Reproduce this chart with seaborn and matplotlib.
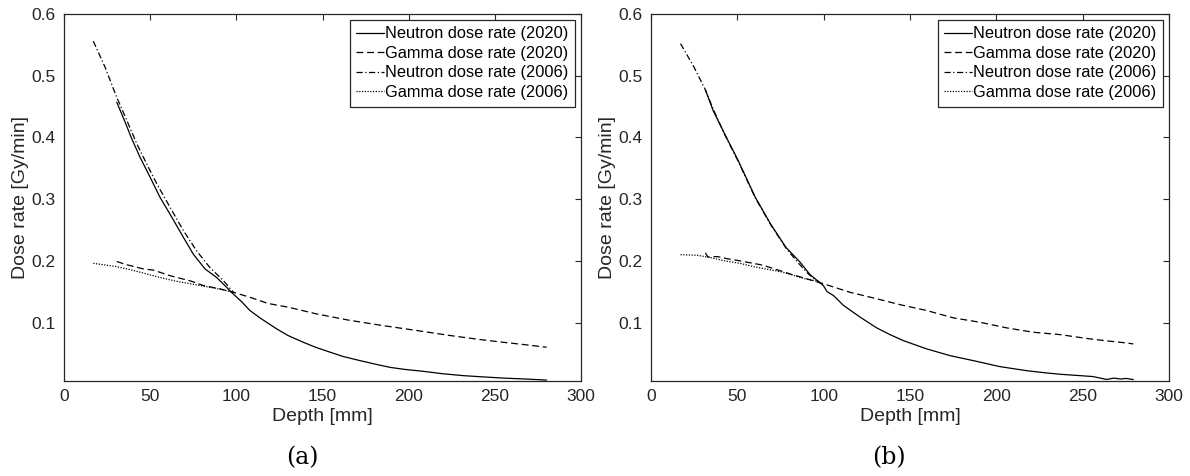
import matplotlib
matplotlib.use("Agg")
import matplotlib.pyplot as plt
import seaborn as sns
import pandas as pd

# ---------------- data ----------------
labels = ["Neutron dose rate (2020)", "Gamma dose rate (2020)",
          "Neutron dose rate (2006)", "Gamma dose rate (2006)"]
captions = ["(a)", "(b)"]
x_ticks = [0, 50, 100, 150, 200, 250, 300]
y_ticks = [0.1, 0.2, 0.3, 0.4, 0.5, 0.6]

# Panel (a)
a_n2020_x = [30.6, 35, 39.3, 44.1, 49, 55.7, 62.5, 69.3, 75, 81.8, 88.6, 94.4, 98.3, 103, 107.9,
             114, 123.4, 130, 138.9, 146, 154.4, 162, 171.8, 180, 189.2, 198, 208.5, 220, 231.7,
             243, 255, 268, 280]
a_n2020_y = [0.457, 0.428, 0.398, 0.368, 0.341, 0.303, 0.271, 0.238, 0.211, 0.187, 0.173, 0.157,
             0.146, 0.134, 0.1195, 0.107, 0.0898, 0.079, 0.068, 0.060, 0.052, 0.045, 0.0383, 0.033,
             0.0274, 0.024, 0.021, 0.017, 0.014, 0.012, 0.0100, 0.0085, 0.0068]
a_g2020_x = [30.6, 36, 46, 51.9, 61.5, 74, 80.8, 90, 98.3, 107.9, 118.3, 130, 146.6, 165, 185.3,
             205, 224, 240, 255, 268, 280]
a_g2020_y = [0.199, 0.194, 0.187, 0.185, 0.176, 0.167, 0.160, 0.155, 0.149, 0.141, 0.131, 0.125,
             0.114, 0.104, 0.095, 0.087, 0.079, 0.073, 0.068, 0.064, 0.060]
a_n2006_x = [17, 23.8, 30.6, 36.4, 42.2, 48, 53.8, 61.5, 69.3, 77, 84.7, 92.5, 98.3]
a_n2006_y = [0.556, 0.514, 0.465, 0.428, 0.390, 0.357, 0.325, 0.287, 0.249, 0.216, 0.189, 0.168,
             0.149]
a_g2006_x = [17, 29.7, 36.4, 45, 55.7, 65, 75, 83, 90.5, 98.3]
a_g2006_y = [0.196, 0.191, 0.187, 0.181, 0.173, 0.167, 0.162, 0.158, 0.154, 0.149]

# Panel (b)
b_n2020_x = [31.5, 33, 35.9, 42.6, 50.4, 60.4, 69.2, 78.1, 86.3, 92, 99.8, 102, 105.6, 111.4,
             121, 130.7, 138.4, 146.1, 159.7, 173.2, 186.7, 202.1, 217.6, 229.2, 238, 248.5, 256,
             263.9, 268, 272, 275, 279.3]
b_n2020_y = [0.477, 0.466, 0.444, 0.406, 0.363, 0.303, 0.260, 0.222, 0.198, 0.178, 0.160, 0.150,
             0.144, 0.128, 0.109, 0.0914, 0.0805, 0.0708, 0.0573, 0.0464, 0.0383, 0.0286, 0.022,
             0.0183, 0.016, 0.014, 0.0125, 0.0078, 0.0100, 0.0085, 0.0095, 0.0077]
b_g2020_x = [31.5, 33, 38.2, 45, 51.5, 64.8, 80.3, 99.8, 115.3, 128.7, 144.2, 159.7, 175.1,
             190.5, 206, 221.4, 236.9, 253, 265, 272, 279.3]
b_g2020_y = [0.213, 0.206, 0.207, 0.203, 0.200, 0.193, 0.179, 0.163, 0.149, 0.140, 0.129, 0.1195,
             0.1076, 0.1005, 0.0914, 0.0843, 0.0805, 0.074, 0.070, 0.068, 0.0654]
b_n2006_x = [17.1, 24.9, 31.5, 36, 42.6, 50.4, 60.4, 69.2, 78.1, 84.8, 91.4, 98]
b_n2006_y = [0.552, 0.514, 0.477, 0.446, 0.405, 0.362, 0.302, 0.259, 0.221, 0.198, 0.178, 0.164]
b_g2006_x = [17.1, 27, 35, 42.6, 51.5, 60.4, 75.9, 89.2, 98]
b_g2006_y = [0.210, 0.209, 0.205, 0.200, 0.196, 0.190, 0.182, 0.171, 0.166]

panels = [
    [(a_n2020_x, a_n2020_y), (a_g2020_x, a_g2020_y), (a_n2006_x, a_n2006_y), (a_g2006_x, a_g2006_y)],
    [(b_n2020_x, b_n2020_y), (b_g2020_x, b_g2020_y), (b_n2006_x, b_n2006_y), (b_g2006_x, b_g2006_y)],
]

# ---------------- style ----------------
sns.set_style("white")
plt.rcParams["font.family"] = ["Liberation Sans", "DejaVu Sans"]
txt = "#262626"
styles = ["-", (0, (5.5, 3.0)), (0, (5.0, 2.0, 1.0, 2.0)), (0, (1.0, 1.2))]

fig = plt.figure(figsize=(11.9, 4.76), dpi=100)
axes_pos = [[64 / 1190, 1 - 380.7 / 476, 517 / 1190, 366.7 / 476],
            [651 / 1190, 1 - 380.7 / 476, 518 / 1190, 366.7 / 476]]
cap_x = [302 / 1190, 889 / 1190]

for pi, series in enumerate(panels):
    ax = fig.add_axes(axes_pos[pi])
    for (xs, ys), lab, ls in zip(series, labels, styles):
        df = pd.DataFrame({"x": xs, "y": ys})
        sns.lineplot(data=df, x="x", y="y", ax=ax, color="black", lw=0.9,
                     linestyle=ls, label=lab, sort=False, estimator=None)
    ax.set_xlim(0, 300)
    ax.set_ylim(0.0058, 0.6)
    ax.set_xticks(x_ticks)
    ax.set_yticks(y_ticks)
    ax.set_xticklabels([str(v) for v in x_ticks])
    ax.set_yticklabels([f"{v:.1f}" for v in y_ticks])
    ax.tick_params(direction="in", length=4, width=0.8, top=True, right=True,
                   labelsize=12.5, colors=txt, pad=6)
    for sp in ax.spines.values():
        sp.set_visible(True)
        sp.set_color(txt)
        sp.set_linewidth(0.9)
    ax.set_xlabel("Depth [mm]", fontsize=14, color=txt, labelpad=3)
    ax.set_ylabel("Dose rate [Gy/min]", fontsize=14, color=txt, labelpad=2)
    leg = ax.legend(loc="upper right", fontsize=11.8, frameon=True, fancybox=False,
                    edgecolor=txt, framealpha=1, borderaxespad=0.35, labelspacing=0.28,
                    handlelength=1.7, handletextpad=0.08, borderpad=0.4)
    leg.get_frame().set_linewidth(0.9)
    for t in leg.get_texts():
        t.set_color("black")
    fig.text(cap_x[pi], 1 - 458 / 476, captions[pi], ha="center", va="center",
             fontsize=17, family=["DejaVu Serif"], color="black")

fig.savefig("out.png", dpi=100)
